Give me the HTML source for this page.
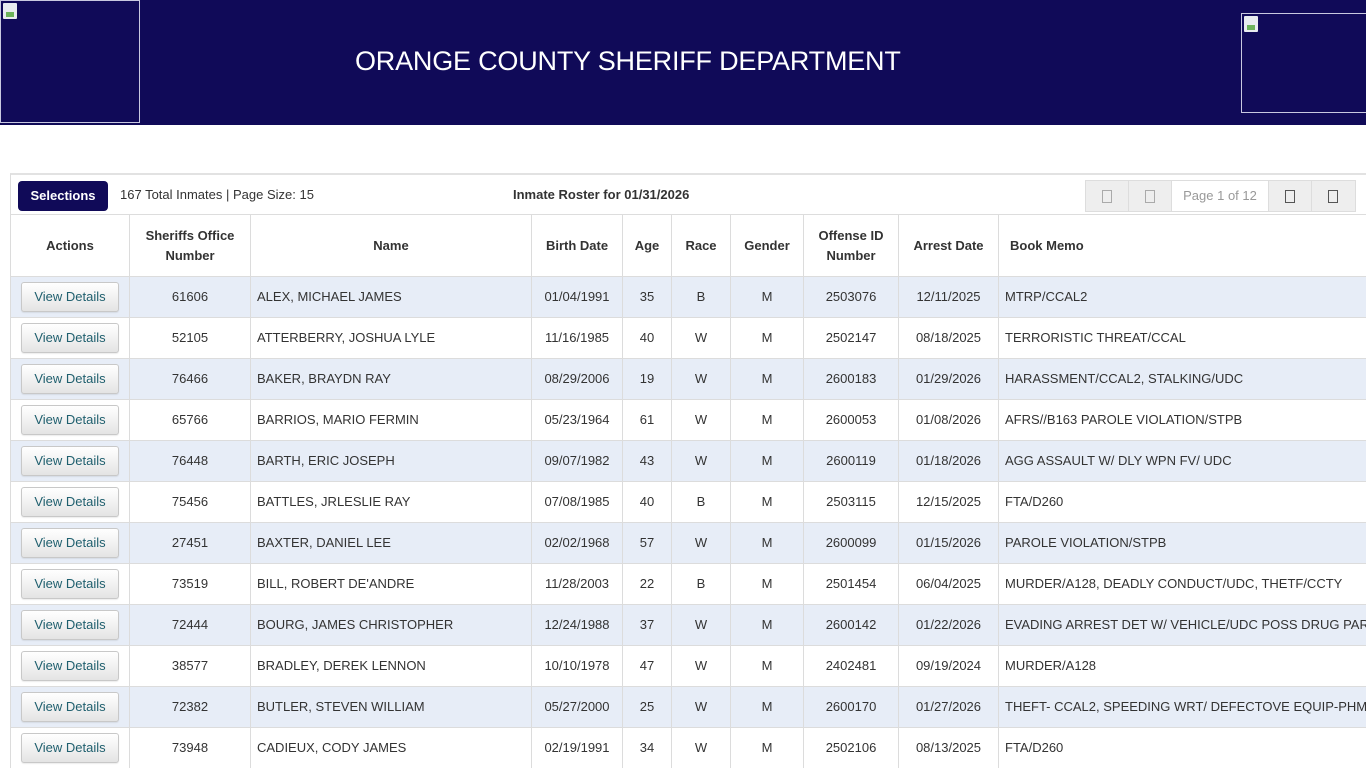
<!DOCTYPE html>
<html>
<head>
<meta charset="utf-8">
<style>
*{box-sizing:border-box;margin:0;padding:0}
html,body{width:1366px;height:768px;overflow:hidden;background:#fff;font-family:"Liberation Sans",Arial,sans-serif;color:#333}
#wrap{position:relative;width:1366px;height:768px;overflow:hidden}
#hdr{position:absolute;left:0;top:0;width:1366px;height:125px;background:#100a58}
#hdr .img1{position:absolute;left:0;top:0;width:140px;height:123px;border:1px solid #c8c8e0}
#hdr .img2{position:absolute;left:1241px;top:13px;width:125px;height:100px;border:1px solid #c8c8e0;border-right:none}
.bi{position:absolute;left:2px;top:2px;width:14px;height:16px;background:#e8ecef;border-radius:1px}
.bi:after{content:"";position:absolute;left:3px;bottom:2px;width:8px;height:5px;background:#6db35a}
#title{position:absolute;left:355px;top:46px;font-size:27px;color:#fff;white-space:nowrap;letter-spacing:-0.2px}
#panel{position:absolute;left:10px;top:173px;width:1356px;height:595px;border-top:2px solid #e2e2e2;border-left:1px solid #ddd}
#sel{position:absolute;left:18px;top:181px;width:90px;height:30px;background:#100a58;color:#fff;font-weight:bold;font-size:13px;border-radius:4px;text-align:center;line-height:30px}
#tot{position:absolute;left:120px;top:187px;font-size:13px;color:#333}
#roster{position:absolute;left:513px;top:187px;font-size:13px;font-weight:bold;color:#333}
#pager{position:absolute;left:1085px;top:180px;width:271px;height:32px;border:1px solid #ddd;display:flex;background:#eee}
#pager div{height:30px;border-right:1px solid #ddd;position:relative}
#pager .b{width:43px}
#pager .b:after{content:"";position:absolute;left:16px;top:9px;width:8px;height:11px;border:1px solid #aaa}
#pager .b.d:after{border-color:#555}
#pager .pg{width:98px;background:#fff;color:#999;font-size:13px;text-align:center;line-height:30px}
#tline{position:absolute;left:10px;top:214px;width:1356px;height:1px;background:#ddd}
#tw{position:absolute;left:10px;top:215px;width:1356px;height:553px;overflow:hidden}
table{border-collapse:collapse;table-layout:fixed;width:1500px}
td,th{border:1px solid #dcdcdc;font-size:13px;text-align:center;vertical-align:middle;overflow:hidden;white-space:nowrap}
th{font-weight:bold;height:61px;line-height:20px;color:#333;border-top:none;padding-top:1px}
td{height:41px;color:#333}
tr.o td{background:#e7edf7}
td.l{text-align:left;padding-left:6px}
th.l{text-align:left;padding-left:11px}
.btn{display:inline-block;width:98px;height:30px;border:1px solid #c8c8c8;border-radius:3px;background:linear-gradient(#fff,#e4e4e4);color:#1f5f6e;font-size:13px;line-height:28px;box-shadow:0 1px 1px rgba(0,0,0,.08)}
</style>
</head>
<body>
<div id="wrap">
<div id="hdr">
  <div class="img1"><div class="bi"></div></div>
  <div id="title">ORANGE COUNTY SHERIFF DEPARTMENT</div>
  <div class="img2"><div class="bi"></div></div>
</div>
<div id="panel"></div>
<div id="sel">Selections</div>
<div id="tot">167 Total Inmates | Page Size: 15</div>
<div id="roster">Inmate Roster for 01/31/2026</div>
<div id="pager"><div class="b"></div><div class="b"></div><div class="pg">Page 1 of 12</div><div class="b d"></div><div class="b d" style="border-right:none"></div></div>
<div id="tline"></div>
<div id="tw">
<table>
<colgroup>
<col style="width:119px"><col style="width:121px"><col style="width:281px"><col style="width:91px"><col style="width:49px"><col style="width:59px"><col style="width:73px"><col style="width:95px"><col style="width:100px"><col style="width:512px">
</colgroup>
<tr><th>Actions</th><th>Sheriffs Office<br>Number</th><th>Name</th><th>Birth Date</th><th>Age</th><th>Race</th><th>Gender</th><th>Offense ID<br>Number</th><th>Arrest Date</th><th class="l">Book Memo</th></tr>
<tr class="o"><td><span class="btn">View Details</span></td><td>61606</td><td class="l">ALEX, MICHAEL JAMES</td><td>01/04/1991</td><td>35</td><td>B</td><td>M</td><td>2503076</td><td>12/11/2025</td><td class="l">MTRP/CCAL2</td></tr>
<tr><td><span class="btn">View Details</span></td><td>52105</td><td class="l">ATTERBERRY, JOSHUA LYLE</td><td>11/16/1985</td><td>40</td><td>W</td><td>M</td><td>2502147</td><td>08/18/2025</td><td class="l">TERRORISTIC THREAT/CCAL</td></tr>
<tr class="o"><td><span class="btn">View Details</span></td><td>76466</td><td class="l">BAKER, BRAYDN RAY</td><td>08/29/2006</td><td>19</td><td>W</td><td>M</td><td>2600183</td><td>01/29/2026</td><td class="l">HARASSMENT/CCAL2, STALKING/UDC</td></tr>
<tr><td><span class="btn">View Details</span></td><td>65766</td><td class="l">BARRIOS, MARIO FERMIN</td><td>05/23/1964</td><td>61</td><td>W</td><td>M</td><td>2600053</td><td>01/08/2026</td><td class="l">AFRS//B163 PAROLE VIOLATION/STPB</td></tr>
<tr class="o"><td><span class="btn">View Details</span></td><td>76448</td><td class="l">BARTH, ERIC JOSEPH</td><td>09/07/1982</td><td>43</td><td>W</td><td>M</td><td>2600119</td><td>01/18/2026</td><td class="l">AGG ASSAULT W/ DLY WPN FV/ UDC</td></tr>
<tr><td><span class="btn">View Details</span></td><td>75456</td><td class="l">BATTLES, JRLESLIE RAY</td><td>07/08/1985</td><td>40</td><td>B</td><td>M</td><td>2503115</td><td>12/15/2025</td><td class="l">FTA/D260</td></tr>
<tr class="o"><td><span class="btn">View Details</span></td><td>27451</td><td class="l">BAXTER, DANIEL LEE</td><td>02/02/1968</td><td>57</td><td>W</td><td>M</td><td>2600099</td><td>01/15/2026</td><td class="l">PAROLE VIOLATION/STPB</td></tr>
<tr><td><span class="btn">View Details</span></td><td>73519</td><td class="l">BILL, ROBERT DE'ANDRE</td><td>11/28/2003</td><td>22</td><td>B</td><td>M</td><td>2501454</td><td>06/04/2025</td><td class="l">MURDER/A128, DEADLY CONDUCT/UDC, THETF/CCTY</td></tr>
<tr class="o"><td><span class="btn">View Details</span></td><td>72444</td><td class="l">BOURG, JAMES CHRISTOPHER</td><td>12/24/1988</td><td>37</td><td>W</td><td>M</td><td>2600142</td><td>01/22/2026</td><td class="l">EVADING ARREST DET W/ VEHICLE/UDC POSS DRUG PARAPHERNALIA</td></tr>
<tr><td><span class="btn">View Details</span></td><td>38577</td><td class="l">BRADLEY, DEREK LENNON</td><td>10/10/1978</td><td>47</td><td>W</td><td>M</td><td>2402481</td><td>09/19/2024</td><td class="l">MURDER/A128</td></tr>
<tr class="o"><td><span class="btn">View Details</span></td><td>72382</td><td class="l">BUTLER, STEVEN WILLIAM</td><td>05/27/2000</td><td>25</td><td>W</td><td>M</td><td>2600170</td><td>01/27/2026</td><td class="l">THEFT- CCAL2, SPEEDING WRT/ DEFECTOVE EQUIP-PHM</td></tr>
<tr><td><span class="btn">View Details</span></td><td>73948</td><td class="l">CADIEUX, CODY JAMES</td><td>02/19/1991</td><td>34</td><td>W</td><td>M</td><td>2502106</td><td>08/13/2025</td><td class="l">FTA/D260</td></tr>
</table>
</div>
</div>
</body>
</html>
